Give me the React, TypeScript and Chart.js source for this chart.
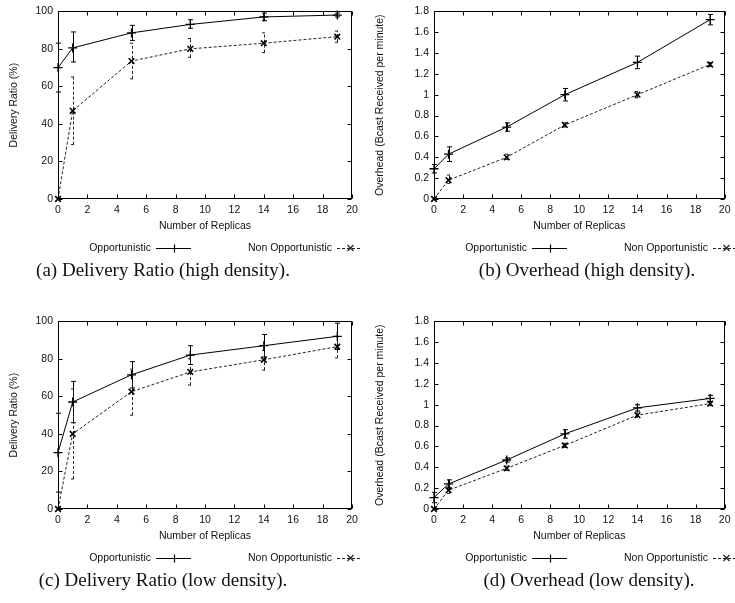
import React, { useEffect, useRef } from "react";
import { Chart, registerables } from "chart.js";

Chart.register(...registerables);

// ---------- data ----------
const replicas = [0, 1, 5, 9, 14, 19];
const xTickValues = [0, 2, 4, 6, 8, 10, 12, 14, 16, 18, 20];
const ratioTickValues = [0, 20, 40, 60, 80, 100];
const overheadTickValues = [0, 0.2, 0.4, 0.6, 0.8, 1, 1.2, 1.4, 1.6, 1.8];

// (a) Delivery ratio, high density
const ratioHighOpp = [70, 80.5, 88.5, 93, 97, 98];
const ratioHighOppLow = [57, 73, 84.5, 91, 95, 97];
const ratioHighOppHigh = [83, 89, 92.5, 95.5, 99, 99];
const ratioHighNon = [0, 47, 73.5, 80, 83, 86.5];
const ratioHighNonLow = [0, 29, 64, 75.5, 78, 83.5];
const ratioHighNonHigh = [0, 65, 83, 85.5, 88.5, 89.5];

// (b) Overhead, high density
const overHighOpp = [0.29, 0.43, 0.69, 1.0, 1.31, 1.72];
const overHighOppLow = [0.25, 0.36, 0.65, 0.94, 1.25, 1.67];
const overHighOppHigh = [0.33, 0.5, 0.73, 1.06, 1.37, 1.77];
const overHighNon = [0, 0.18, 0.4, 0.71, 1.0, 1.29];
const overHighNonLow = [0, 0.15, 0.38, 0.69, 0.97, 1.27];
const overHighNonHigh = [0, 0.23, 0.43, 0.73, 1.03, 1.31];

// (c) Delivery ratio, low density
const ratioLowOpp = [30, 57, 71.5, 82, 87, 92];
const ratioLowOppLow = [9, 46, 64.5, 77, 81, 85];
const ratioLowOppHigh = [51, 68, 78.5, 87, 93, 99];
const ratioLowNon = [0, 40, 62.5, 73, 79.5, 86.5];
const ratioLowNonLow = [0, 16, 50, 66, 74, 80.5];
const ratioLowNonHigh = [0, 64, 74.5, 80, 84.5, 92];

// (d) Overhead, low density
const overLowOpp = [0.11, 0.24, 0.47, 0.72, 0.97, 1.06];
const overLowOppLow = [0.06, 0.2, 0.45, 0.68, 0.94, 1.03];
const overLowOppHigh = [0.16, 0.28, 0.49, 0.76, 1.0, 1.09];
const overLowNon = [0, 0.18, 0.39, 0.61, 0.9, 1.01];
const overLowNonLow = [0, 0.15, 0.37, 0.59, 0.88, 0.99];
const overLowNonHigh = [0, 0.21, 0.41, 0.63, 0.92, 1.03];

const seriesNames = ["Opportunistic", "Non Opportunistic"];
const xTitle = "Number of Replicas";
const ratioTitle = "Delivery Ratio (%)";
const overheadTitle = "Overhead (Bcast Received per minute)";

// ---------- look ----------
const FONT = "'Liberation Sans', Arial, Helvetica, sans-serif";
const TEXT = "#111";

const gnuplotLook = {
  id: "gnuplotLook",
  beforeDatasetsDraw(chart: any) {
    const { ctx } = chart;
    const xs = chart.scales.x;
    const ys = chart.scales.y;
    chart.data.datasets.forEach((ds: any) => {
      ctx.save();
      ctx.strokeStyle = ds.borderColor;
      ctx.lineWidth = 1;
      ctx.setLineDash(ds.borderDash || []);
      ds.data.forEach((pt: any, i: number) => {
        const lo = ds.errLow[i];
        const hi = ds.errHigh[i];
        if (lo === hi) return;
        const px = Math.round(xs.getPixelForValue(pt.x)) + 0.5;
        const yl = ys.getPixelForValue(lo);
        const yh = ys.getPixelForValue(hi);
        ctx.beginPath();
        ctx.moveTo(px, yl);
        ctx.lineTo(px, yh);
        ctx.moveTo(px - 2.5, yl);
        ctx.lineTo(px + 2.5, yl);
        ctx.moveTo(px - 2.5, yh);
        ctx.lineTo(px + 2.5, yh);
        ctx.stroke();
      });
      ctx.restore();
    });
  },
  afterDraw(chart: any) {
    const { ctx, chartArea } = chart;
    const { left, right, top, bottom } = chartArea;
    const xs = chart.scales.x;
    const ys = chart.scales.y;
    ctx.save();
    ctx.strokeStyle = "#000";
    ctx.lineWidth = 1;
    ctx.setLineDash([]);
    const L = Math.round(left) + 0.5;
    const R = Math.round(right) - 0.5;
    const T = Math.round(top) + 0.5;
    const B = Math.round(bottom) - 0.5;
    ctx.strokeRect(L, T, R - L, B - T);
    const tl = 4;
    ctx.beginPath();
    xs.ticks.forEach((t: any) => {
      const px = Math.round(xs.getPixelForValue(t.value)) + 0.5;
      ctx.moveTo(px, B);
      ctx.lineTo(px, B - tl);
      ctx.moveTo(px, T);
      ctx.lineTo(px, T + tl);
    });
    ys.ticks.forEach((t: any) => {
      const py = Math.round(ys.getPixelForValue(t.value)) + 0.5;
      ctx.moveTo(L, py);
      ctx.lineTo(L + tl, py);
      ctx.moveTo(R, py);
      ctx.lineTo(R - tl, py);
    });
    ctx.stroke();

    // gnuplot-style legend: text then sample
    const legendY = bottom + 49;
    const slots = [
      [98, 133],
      [279, 304],
    ];
    ctx.font = `10.5px ${FONT}`;
    ctx.fillStyle = TEXT;
    ctx.textAlign = "right";
    ctx.textBaseline = "middle";
    chart.data.datasets.forEach((ds: any, i: number) => {
      const [s0, s1] = slots[i];
      const x0 = left + s0;
      const x1 = left + s1;
      ctx.fillText(ds.label, x0 - 5, legendY);
      ctx.strokeStyle = ds.borderColor;
      ctx.setLineDash(ds.borderDash || []);
      ctx.beginPath();
      ctx.moveTo(x0, legendY + 0.5);
      ctx.lineTo(x1, legendY + 0.5);
      ctx.stroke();
      ctx.setLineDash([]);
      const cx = Math.round((x0 + x1) / 2) + 0.5;
      ctx.lineWidth = 1.2;
      ctx.beginPath();
      if (ds.pointStyle === "cross") {
        ctx.moveTo(cx - 4, legendY + 0.5);
        ctx.lineTo(cx + 4, legendY + 0.5);
        ctx.moveTo(cx, legendY - 3.5);
        ctx.lineTo(cx, legendY + 4.5);
      } else {
        ctx.moveTo(cx - 3, legendY - 3);
        ctx.lineTo(cx + 3, legendY + 3);
        ctx.moveTo(cx + 3, legendY - 3);
        ctx.lineTo(cx - 3, legendY + 3);
      }
      ctx.stroke();
      ctx.lineWidth = 1;
    });
    ctx.restore();
  },
};

type PanelProps = {
  left: number;
  top: number;
  width: number;
  yWidth: number;
  yTitlePad: number;
  rightPad: number;
  yTitle: string;
  yMax: number;
  yTicks: number[];
  opp: number[];
  oppLow: number[];
  oppHigh: number[];
  non: number[];
  nonLow: number[];
  nonHigh: number[];
  caption: string;
  captionX: number;
};

const CANVAS_H = 262;

function Panel(p: PanelProps) {
  const ref = useRef<HTMLCanvasElement | null>(null);
  useEffect(() => {
    if (!ref.current) return;
    const toPts = (vals: number[]) => replicas.map((x, i) => ({ x, y: vals[i] }));
    const chart = new Chart(ref.current, {
      type: "line",
      data: {
        datasets: [
          {
            label: seriesNames[0],
            data: toPts(p.opp),
            errLow: p.oppLow,
            errHigh: p.oppHigh,
            borderColor: "#000",
            backgroundColor: "#000",
            borderWidth: 1,
            pointStyle: "cross",
            pointRadius: 4.5,
            pointBorderWidth: 1.3,
            pointBorderColor: "#000",
            tension: 0,
            clip: false,
          } as any,
          {
            label: seriesNames[1],
            data: toPts(p.non),
            errLow: p.nonLow,
            errHigh: p.nonHigh,
            borderColor: "#222",
            backgroundColor: "#222",
            borderWidth: 1,
            borderDash: [3, 2],
            pointStyle: "crossRot",
            pointRadius: 4,
            pointBorderWidth: 1.6,
            pointBorderColor: "#000",
            tension: 0,
            clip: false,
          } as any,
        ],
      },
      options: {
        animation: false,
        responsive: false,
        events: [],
        layout: { padding: { left: 0, top: 8, right: p.rightPad, bottom: CANVAS_H - 199 - 35 } },
        plugins: { legend: { display: false }, tooltip: { enabled: false } },
        scales: {
          x: {
            type: "linear",
            min: 0,
            max: 20,
            grid: { display: false, drawTicks: false },
            border: { display: false },
            afterBuildTicks: (s: any) => {
              s.ticks = xTickValues.map((v) => ({ value: v }));
            },
            afterFit: (s: any) => {
              s.height = 35;
            },
            ticks: {
              padding: 4.5,
              color: TEXT,
              font: { family: FONT, size: 10.5 },
              callback: (v: any) => String(v),
            },
            title: {
              display: true,
              text: xTitle,
              color: TEXT,
              font: { family: FONT, size: 10.5 },
              padding: { top: 0, bottom: 2 },
            },
          },
          y: {
            type: "linear",
            min: 0,
            max: p.yMax,
            grid: { display: false, drawTicks: false },
            border: { display: false },
            afterBuildTicks: (s: any) => {
              s.ticks = p.yTicks.map((v) => ({ value: v }));
            },
            afterFit: (s: any) => {
              s.width = p.yWidth;
            },
            ticks: {
              padding: 5,
              color: TEXT,
              font: { family: FONT, size: 10.5 },
              callback: (v: any) => String(Math.round(v * 100) / 100),
            },
            title: {
              display: true,
              text: p.yTitle,
              color: TEXT,
              font: { family: FONT, size: 10.5 },
              padding: { top: p.yTitlePad, bottom: 0 },
            },
          },
        },
      },
      plugins: [gnuplotLook],
    } as any);
    return () => chart.destroy();
  }, []);
  return (
    <>
      <canvas
        ref={ref}
        width={p.width}
        height={CANVAS_H}
        style={{ position: "absolute", left: p.left, top: p.top, width: p.width, height: CANVAS_H }}
      />
      <div
        style={{
          position: "absolute",
          left: p.captionX - 200,
          width: 400,
          top: p.top + 258,
          textAlign: "center",
          fontFamily: "'Liberation Serif', 'Times New Roman', serif",
          fontSize: 19,
          lineHeight: "24px",
          color: TEXT,
          whiteSpace: "nowrap",
        }}
      >
        {p.caption}
      </div>
    </>
  );
}

export default function App() {
  return (
    <div
      style={{
        position: "absolute",
        left: 0,
        top: 0,
        width: 735,
        height: 603,
        background: "#fff",
        overflow: "hidden",
      }}
    >
      <Panel
        left={0}
        top={0}
        width={367}
        yWidth={58}
        yTitlePad={8}
        rightPad={15}
        yTitle={ratioTitle}
        yMax={100}
        yTicks={ratioTickValues}
        opp={ratioHighOpp}
        oppLow={ratioHighOppLow}
        oppHigh={ratioHighOppHigh}
        non={ratioHighNon}
        nonLow={ratioHighNonLow}
        nonHigh={ratioHighNonHigh}
        caption="(a) Delivery Ratio (high density)."
        captionX={163}
      />
      <Panel
        left={367}
        top={0}
        width={368}
        yWidth={67}
        yTitlePad={7}
        rightPad={7}
        yTitle={overheadTitle}
        yMax={1.8}
        yTicks={overheadTickValues}
        opp={overHighOpp}
        oppLow={overHighOppLow}
        oppHigh={overHighOppHigh}
        non={overHighNon}
        nonLow={overHighNonLow}
        nonHigh={overHighNonHigh}
        caption="(b) Overhead (high density)."
        captionX={587}
      />
      <Panel
        left={0}
        top={310}
        width={367}
        yWidth={58}
        yTitlePad={8}
        rightPad={15}
        yTitle={ratioTitle}
        yMax={100}
        yTicks={ratioTickValues}
        opp={ratioLowOpp}
        oppLow={ratioLowOppLow}
        oppHigh={ratioLowOppHigh}
        non={ratioLowNon}
        nonLow={ratioLowNonLow}
        nonHigh={ratioLowNonHigh}
        caption="(c) Delivery Ratio (low density)."
        captionX={163}
      />
      <Panel
        left={367}
        top={310}
        width={368}
        yWidth={67}
        yTitlePad={7}
        rightPad={7}
        yTitle={overheadTitle}
        yMax={1.8}
        yTicks={overheadTickValues}
        opp={overLowOpp}
        oppLow={overLowOppLow}
        oppHigh={overLowOppHigh}
        non={overLowNon}
        nonLow={overLowNonLow}
        nonHigh={overLowNonHigh}
        caption="(d) Overhead (low density)."
        captionX={589}
      />
    </div>
  );
}
